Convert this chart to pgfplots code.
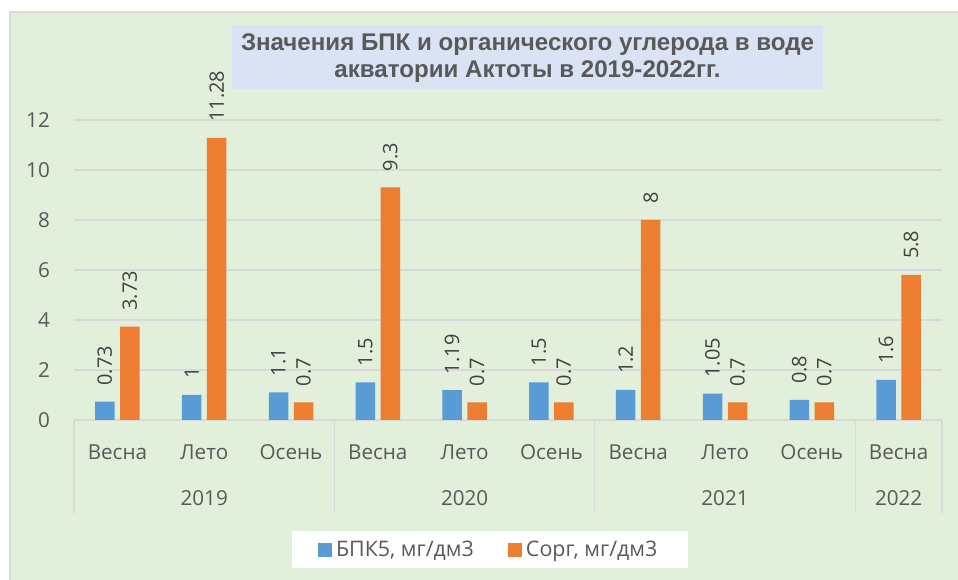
\documentclass[border=0pt]{standalone}
\usepackage{fontspec}
\setmainfont{Open Sans}
\newfontfamily\titlefont{Liberation Sans}
\usepackage{pgfplots}
\usepackage{pgfplotstable}
\pgfplotsset{compat=1.18}

\definecolor{bgc}{HTML}{E2EFDA}
\definecolor{titlebg}{HTML}{DAE3F3}
\definecolor{gridc}{HTML}{D9D9D9}
\definecolor{txt}{HTML}{595959}
\definecolor{lbl}{HTML}{404040}
\definecolor{bpk}{HTML}{5B9BD5}
\definecolor{sorg}{HTML}{ED7D31}

% x  BPK5  Corg
\pgfplotstableread{
x b o
0 0.73 3.73
1 1 11.28
2 1.1 0.7
3 1.5 9.3
4 1.19 0.7
5 1.5 0.7
6 1.2 8
7 1.05 0.7
8 0.8 0.7
9 1.6 5.8
}\data

\begin{document}
\begin{tikzpicture}[x=1bp,y=1bp]
\useasboundingbox (0,0) rectangle (958,580);
\fill[white] (0,0) rectangle (958,580);
\fill[bgc] (10,0) rectangle (958,568);
\draw[gridc, line width=1.2bp] (10,0) -- (10,568) -- (958,568);
\fill[titlebg] (232,491) rectangle (823,555);
\node[font=\titlefont\bfseries\fontsize{24.2}{27}\selectfont, text=txt, align=center]
  at (527.5,522) {Значения БПК и органического углерода в воде\\акватории Актоты в 2019-2022гг.};

\begin{axis}[
    at={(74bp,160bp)}, anchor=south west,
    scale only axis, width=868bp, height=300bp,
    clip=false,
    xmin=-0.5, xmax=9.5, ymin=0, ymax=12,
    ytick={0,2,...,12},
    xtick={0,...,9},
    xticklabels={Весна,Лето,Осень,Весна,Лето,Осень,Весна,Лето,Осень,Весна},
    major tick length=0pt,
    axis line style={draw=none},
    ymajorgrids, grid style={gridc, line width=1.2bp},
    /pgf/number format/assume math mode=true,
    tick label style={font=\fontsize{20.7}{24}\selectfont, text=txt, inner sep=0pt},
    yticklabel style={anchor=east, xshift=-24bp},
    xticklabel style={anchor=base, yshift=-39.5bp},
    point meta=explicit symbolic,
    nodes near coords,
    every node near coord/.append style={rotate=90, anchor=west, inner xsep=16bp, inner ysep=0pt,
        font=\fontsize{20}{24}\selectfont, text=lbl},
    legend columns=2,
    legend style={at={(0.479,-0.433)}, anchor=center, fill=white, draw=none,
        font=\fontsize{21.5}{24}\selectfont, text=txt, inner xsep=26bp, inner ysep=8bp,
        nodes={inner xsep=4bp},
        /tikz/every even column/.append style={column sep=30bp}},
    legend image code/.code={\fill[#1] (0bp,-7bp) rectangle (14bp,7bp);},
]
% bars sit 0.144 of a category left and right of the tick
\addplot[ybar, bar width=19.5bp, bar shift=0pt, fill=bpk, draw=none]
    table[x expr=\thisrow{x}-0.144, y=b, meta=b] {\data};
\addlegendentry{БПК5, мг/дм3}
\addplot[ybar, bar width=19.5bp, bar shift=0pt, fill=sorg, draw=none]
    table[x expr=\thisrow{x}+0.144, y=o, meta=o] {\data};
\addlegendentry{Сорг, мг/дм3}

\pgfplotsinvokeforeach{-0.5,2.5,5.5,8.5,9.5}{
  \draw[gridc, line width=1.2bp] (axis cs:#1,0) -- ([yshift=-93bp]axis cs:#1,0);
}
\node[anchor=base, inner sep=0pt, font=\fontsize{20.7}{24}\selectfont, text=txt]
  at ([yshift=-85.5bp]axis cs:1,0) {2019};
\node[anchor=base, inner sep=0pt, font=\fontsize{20.7}{24}\selectfont, text=txt]
  at ([yshift=-85.5bp]axis cs:4,0) {2020};
\node[anchor=base, inner sep=0pt, font=\fontsize{20.7}{24}\selectfont, text=txt]
  at ([yshift=-85.5bp]axis cs:7,0) {2021};
\node[anchor=base, inner sep=0pt, font=\fontsize{20.7}{24}\selectfont, text=txt]
  at ([yshift=-85.5bp]axis cs:9,0) {2022};
\end{axis}
\end{tikzpicture}
\end{document}
